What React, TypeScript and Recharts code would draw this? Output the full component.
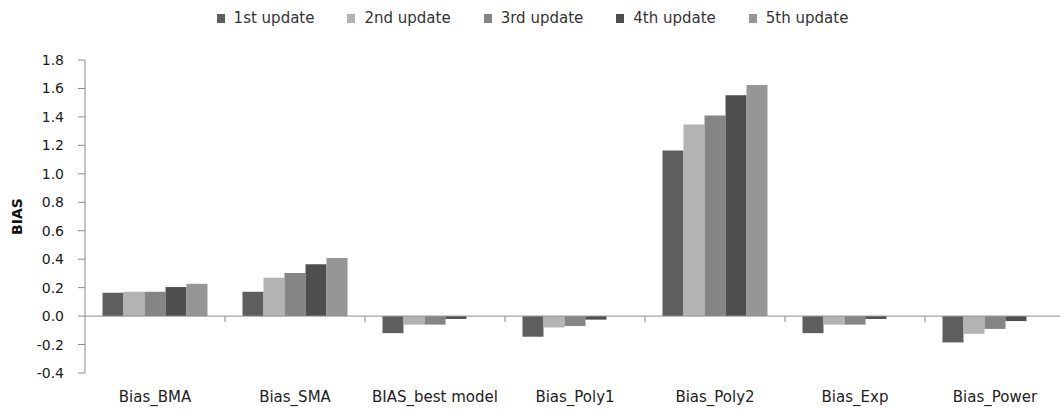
import React from 'react';
import { BarChart, Bar, XAxis, YAxis, Legend, ReferenceLine } from 'recharts';

// Model bias per forecast update
const categories = ['Bias_BMA', 'Bias_SMA', 'BIAS_best model', 'Bias_Poly1', 'Bias_Poly2', 'Bias_Exp', 'Bias_Power'];
const update1 = [0.164, 0.171, -0.12, -0.145, 1.164, -0.12, -0.185];
const update2 = [0.171, 0.27, -0.06, -0.08, 1.347, -0.06, -0.125];
const update3 = [0.171, 0.302, -0.06, -0.07, 1.41, -0.06, -0.09];
const update4 = [0.204, 0.365, -0.02, -0.025, 1.553, -0.02, -0.035];
const update5 = [0.227, 0.408, 0, 0, 1.625, 0, 0];

const seriesKeys = ['u1', 'u2', 'u3', 'u4', 'u5'];
const seriesNames = ['1st update', '2nd update', '3rd update', '4th update', '5th update'];
const seriesColors = ['#5e5e5e', '#b3b3b3', '#858585', '#4e4e4e', '#969696'];
const yTicks = [-0.4, -0.2, 0, 0.2, 0.4, 0.6, 0.8, 1.0, 1.2, 1.4, 1.6, 1.8];

const data = categories.map((name, i) => ({
  name,
  u1: update1[i],
  u2: update2[i],
  u3: update3[i],
  u4: update4[i],
  u5: update5[i],
}));

const AXIS = '#8c8c8c';
const FONT = '"DejaVu Sans", Verdana, sans-serif';

const LegendRow = () => (
  <div
    style={{
      height: 36,
      display: 'flex',
      justifyContent: 'center',
      alignItems: 'center',
      gap: 33,
      fontFamily: FONT,
      fontSize: 15,
      color: '#333',
    }}
  >
    {seriesNames.map((n, i) => (
      <div key={n} style={{ display: 'flex', alignItems: 'center' }}>
        <span style={{ width: 8, height: 9, background: seriesColors[i], marginRight: 9, display: 'inline-block' }} />
        <span>{n}</span>
      </div>
    ))}
  </div>
);

// small tick hanging below the zero line at each category boundary
const BoundaryTick = (p: any) => (
  <line x1={p.x1} y1={p.y1} x2={p.x1} y2={p.y1 + 6} stroke={AXIS} strokeWidth={1} />
);

const YTitle = (props: any) => {
  const vb = props.viewBox;
  const cx = 17;
  const cy = vb.y + vb.height / 2;
  return (
    <text
      x={cx}
      y={cy}
      transform={`rotate(-90, ${cx}, ${cy})`}
      textAnchor="middle"
      dominantBaseline="central"
      fontFamily={FONT}
      fontWeight="bold"
      fontSize={14}
      fill="#111"
    >
      BIAS
    </text>
  );
};

export default function App() {
  return (
    <div style={{ position: 'absolute', left: 0, top: 0, width: 1060, height: 410, overflow: 'hidden', background: '#fff' }}>
      <BarChart
        width={1065}
        height={410}
        data={data}
        margin={{ top: 24, right: 0, bottom: 0, left: 0 }}
        barCategoryGap="12.5%"
        barGap={0}
      >
        <Legend verticalAlign="top" content={LegendRow} wrapperStyle={{ top: 0 }} />
        <XAxis
          dataKey="name"
          height={37}
          axisLine={false}
          tickLine={false}
          tickSize={0}
          tickMargin={18}
          interval={0}
          tick={{ fontFamily: FONT, fontSize: 15, fill: '#222' }}
        />
        <YAxis
          width={85}
          domain={[-0.4, 1.8]}
          ticks={yTicks}
          interval={0}
          allowDataOverflow
          tickFormatter={(v: number) => v.toFixed(1)}
          axisLine={{ stroke: AXIS }}
          tickLine={{ stroke: AXIS }}
          tickSize={7}
          tickMargin={14}
          tick={{ fontFamily: FONT, fontSize: 14, fill: '#1a1a1a' }}
          label={{ content: YTitle }}
        />
        {seriesKeys.map((k, i) => (
          <Bar key={k} dataKey={k} name={seriesNames[i]} fill={seriesColors[i]} isAnimationActive={false} />
        ))}
        <ReferenceLine y={0} stroke={AXIS} strokeWidth={1} />
        {categories.map((c) => (
          <ReferenceLine
            key={c}
            segment={[{ x: c, y: 0 }, { x: c, y: 0 }]}
            position="end"
            shape={BoundaryTick}
            ifOverflow="visible"
          />
        ))}
      </BarChart>
    </div>
  );
}
